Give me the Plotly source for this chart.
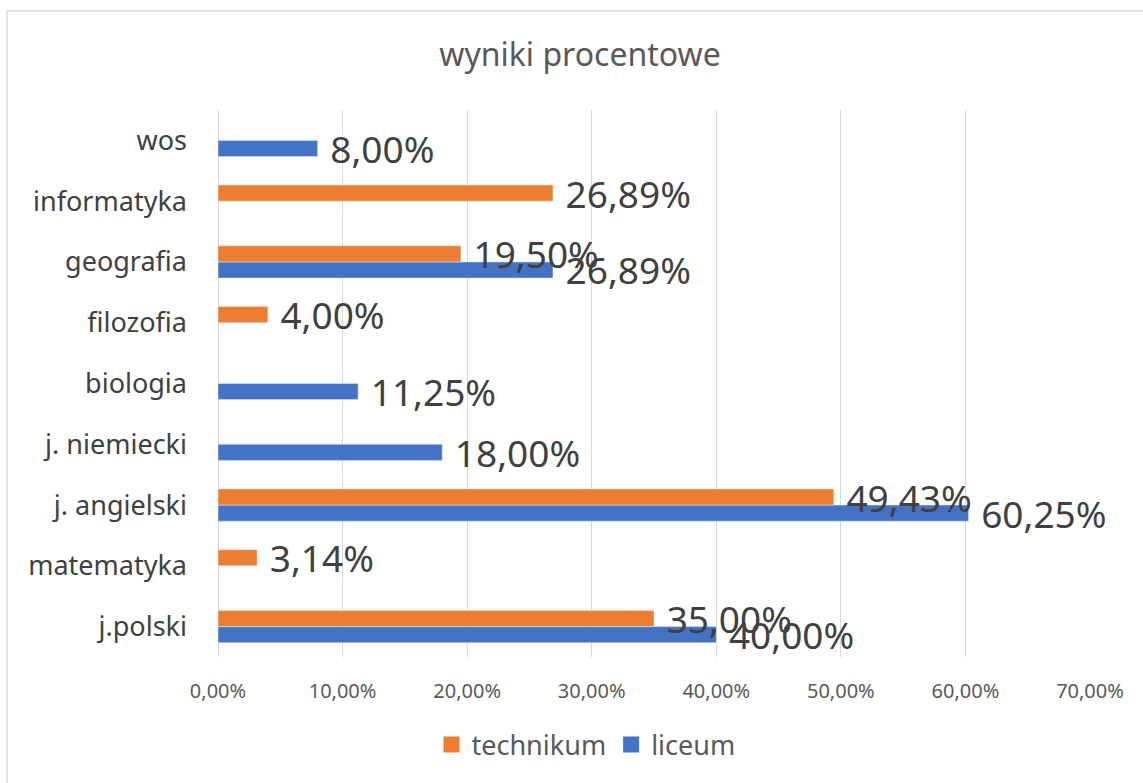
import plotly.graph_objects as go

# dane z wykresu (od dołu do góry, jak w Excelu)
kategorie = ["j.polski", "matematyka", "j. angielski", "j. niemiecki", "biologia",
             "filozofia", "geografia", "informatyka", "wos"]
technikum = [0.35, 0.0314, 0.4943, None, None, 0.04, 0.195, 0.2689, None]
liceum = [0.40, None, 0.6025, 0.18, 0.1125, None, 0.2689, None, 0.08]
x_ticks = [0, 0.1, 0.2, 0.3, 0.4, 0.5, 0.6, 0.7]

FONT = "Noto Sans"
POMARANCZ = "#ED7D31"
NIEBIESKI = "#4472C4"


def etykieta(v):
    if v is None:
        return ""
    return "\u00a0" + f"{v * 100:.2f}%".replace(".", ",")


W, H = 1143, 783
ML, MR, MT, MB = 218, 53, 110, 126
PW, PH = W - ML - MR, H - MT - MB

fig = go.Figure()
# liceum dodane jako pierwsze -> w grupie rysowane niżej
for nazwa, wartosci, kolor in [("liceum", liceum, NIEBIESKI), ("technikum", technikum, POMARANCZ)]:
    fig.add_trace(go.Bar(y=kategorie, x=wartosci, name=nazwa, orientation="h",
                         marker_color=kolor, showlegend=False,
                         text=[etykieta(v) for v in wartosci], textposition="outside",
                         constraintext="none", cliponaxis=False,
                         textfont=dict(size=37, color="#404040", family=FONT)))

# legenda z większymi kwadratami
for nazwa, kolor in [("technikum", POMARANCZ), ("liceum", NIEBIESKI)]:
    fig.add_trace(go.Scatter(x=[None], y=[None], mode="markers", name=nazwa,
                             marker=dict(symbol="square", size=16, color=kolor)))

# ramka obszaru wykresu (jak w Excelu, wychodzi poza kadr z prawej i z dołu)
fig.add_shape(type="rect", xref="paper", yref="paper",
              x0=(7 - ML) / PW, x1=(W + 20 - ML) / PW,
              y0=-(H + 20 - MT - PH) / PH, y1=1 + (MT - 11) / PH,
              line=dict(color="#D9D9D9", width=1.5), fillcolor="rgba(0,0,0,0)", layer="below")

fig.update_layout(
    width=W, height=H,
    margin=dict(l=ML, r=MR, t=MT, b=MB),
    paper_bgcolor="white", plot_bgcolor="white",
    font=dict(family=FONT, color="#595959"),
    separators=", ",
    barmode="group", bargap=0.47, bargroupgap=0,
    title=dict(text="wyniki procentowe", x=(580 - ML) / PW, xref="paper", xanchor="center",
               y=1 - 55 / H, yanchor="middle",
               font=dict(size=32, color="#595959", family=FONT)),
    xaxis=dict(range=[0, 0.7], tickvals=x_ticks, tickformat=".2%",
               showgrid=True, gridcolor="#D9D9D9", gridwidth=1.3,
               zeroline=True, zerolinecolor="#D9D9D9", zerolinewidth=1.3,
               showline=False, ticks="", ticklabelstandoff=20,
               tickfont=dict(size=20, color="#595959", family=FONT)),
    yaxis=dict(categoryorder="array", categoryarray=kategorie,
               showgrid=False, zeroline=False, showline=False, ticks="",
               ticklabelstandoff=30,
               tickfont=dict(size=27, color="#404040", family=FONT)),
    legend=dict(orientation="h",
                x=(586 - ML) / PW, xanchor="center",
                y=-(745 - MT - PH) / PH, yanchor="middle",
                itemwidth=30,
                font=dict(size=27, color="#595959", family=FONT)),
)

fig.write_html("out.html", config={"displayModeBar": False},
               post_script="document.body.style.margin='0';")
